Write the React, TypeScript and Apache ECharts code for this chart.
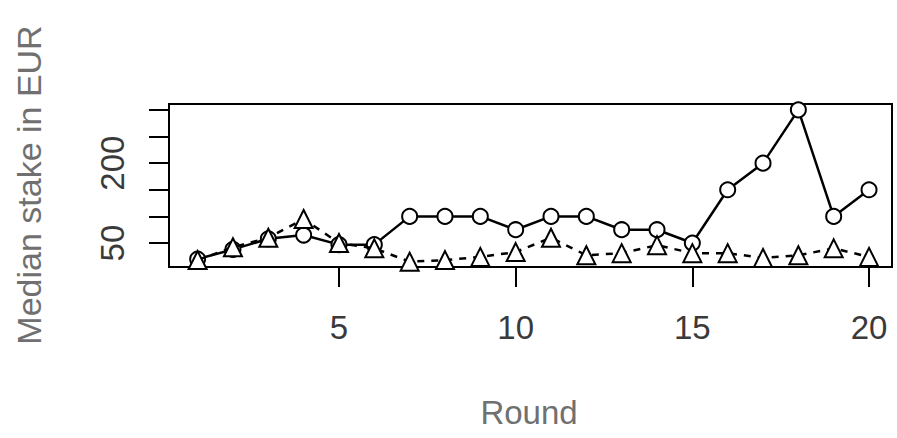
import React, { useEffect, useRef } from "react";
import * as echarts from "echarts";

const rounds = [1, 2, 3, 4, 5, 6, 7, 8, 9, 10, 11, 12, 13, 14, 15, 16, 17, 18, 19, 20];
const circleSeries = [20, 38, 58, 65, 47, 47, 100, 100, 100, 75, 100, 100, 75, 75, 50, 150, 200, 300, 100, 150];
const triangleSeries = [18, 42, 60, 95, 50, 40, 15, 18, 24, 33, 60, 27, 31, 46, 31, 31, 22, 27, 40, 24];
const xTicks = [5, 10, 15, 20];
const yTicks = [50, 100, 150, 200, 250, 300];
const yLabels = [50, 200];
const xTitle = "Round";
const yTitle = "Median stake in EUR";

const FONT = "'Liberation Sans', Arial, sans-serif";

export default function App() {
  const ref = useRef<HTMLDivElement>(null);
  useEffect(() => {
    if (!ref.current) return;
    const chart = echarts.init(ref.current, undefined, { renderer: "svg" });
    chart.setOption({
      animation: false,
      backgroundColor: "#ffffff",
      grid: {
        left: 169,
        top: 104,
        right: 5,
        bottom: 171,
        show: true,
        borderColor: "#000",
        borderWidth: 2,
        backgroundColor: "transparent",
      },
      xAxis: {
        type: "value",
        min: 0.19,
        max: 20.65,
        axisLine: { show: false },
        splitLine: { show: false },
        axisTick: {
          show: true,
          customValues: xTicks,
          length: 20,
          inside: false,
          lineStyle: { color: "#000", width: 2 },
        },
        axisLabel: {
          show: true,
          customValues: xTicks,
          margin: 44,
          fontSize: 33,
          fontFamily: FONT,
          color: "#3a3a3a",
        },
      },
      yAxis: {
        type: "value",
        min: 5,
        max: 311,
        axisLine: { show: false },
        splitLine: { show: false },
        axisTick: {
          show: true,
          customValues: yTicks,
          length: 20,
          inside: false,
          lineStyle: { color: "#000", width: 2 },
        },
        axisLabel: {
          show: true,
          customValues: yLabels,
          rotate: 90,
          margin: 40,
          fontSize: 33,
          fontFamily: FONT,
          color: "#3a3a3a",
        },
      },
      graphic: [
        {
          type: "text",
          x: 529,
          y: 412,
          style: {
            text: xTitle,
            fontSize: 33,
            fontFamily: FONT,
            fill: "#707070",
            textAlign: "center",
            textVerticalAlign: "middle",
          },
        },
        {
          type: "text",
          x: 29,
          y: 185,
          rotation: Math.PI / 2,
          style: {
            text: yTitle,
            fontSize: 34,
            fontFamily: FONT,
            fill: "#707070",
            textAlign: "center",
            textVerticalAlign: "middle",
          },
        },
      ],
      series: [
        {
          type: "line",
          data: rounds.map((r, i) => [r, circleSeries[i]]),
          symbol: "emptyCircle",
          symbolSize: 15,
          lineStyle: { color: "#000", width: 2.5 },
          itemStyle: { color: "#000", borderWidth: 2.5 },
          z: 2,
        },
        {
          type: "line",
          data: rounds.map((r, i) => [r, triangleSeries[i]]),
          symbol: "emptyTriangle",
          symbolSize: 18,
          lineStyle: { color: "#000", width: 2.5, type: [7, 7] },
          itemStyle: { color: "#000", borderWidth: 2.5 },
          z: 3,
        },
      ],
    });
    return () => chart.dispose();
  }, []);
  return (
    <div
      ref={ref}
      style={{ position: "fixed", left: 0, top: 0, width: 897, height: 438, background: "#fff" }}
    />
  );
}
